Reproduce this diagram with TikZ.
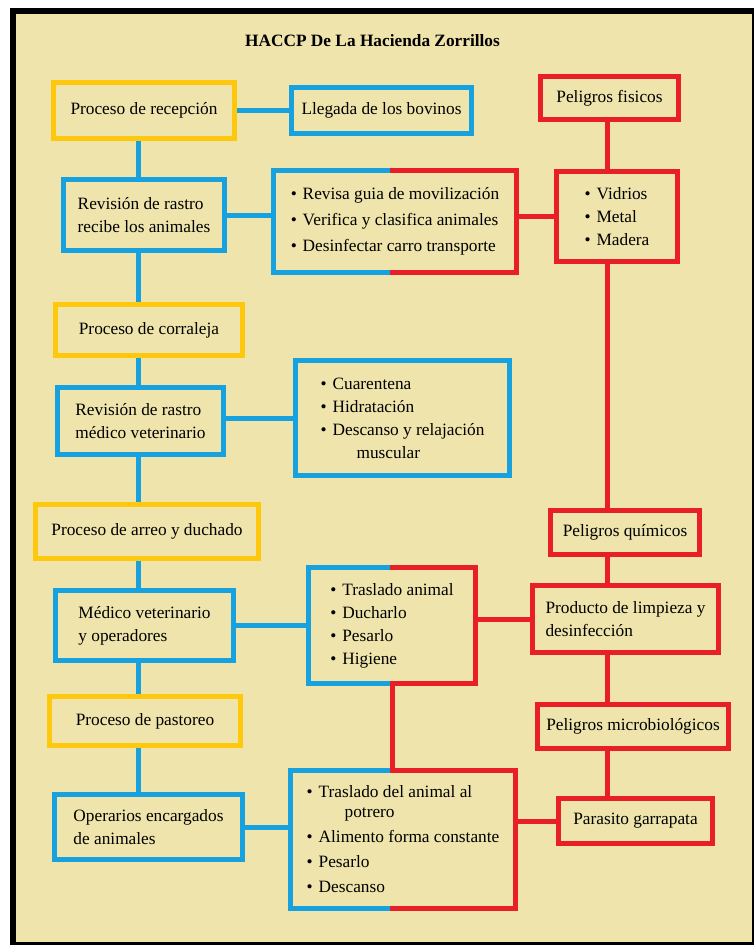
\documentclass[tikz,border=0pt]{standalone}
\usepackage{fontspec}
\setmainfont{Liberation Serif}
\usepackage{tikz}
\definecolor{beige}{RGB}{238,228,172}
\definecolor{cblue}{RGB}{23,161,222}
\definecolor{cyellow}{RGB}{254,200,12}
\definecolor{cred}{RGB}{232,30,40}
\pgfdeclarelayer{bg}
\pgfdeclarelayer{lines}
\pgfsetlayers{bg,lines,main}
\tikzset{%
    box/.style={rectangle, fill=beige, line width=5pt, outer sep=0pt, inner sep=0pt,
        align=left, font=\fontsize{17.3}{23}\selectfont},
    ybox/.style={box, draw=cyellow},
    bbox/.style={box, draw=cblue},
    rbox/.style={box, draw=cred},
    mbox/.style={box},
    bline/.style={cblue, line width=5pt},
    rline/.style={cred, line width=5pt}
}
\newcommand{\bul}{\makebox[12pt][l]{\textbullet}}

\begin{document}
\begin{tikzpicture}[x=1pt,y=-1pt]
            \useasboundingbox (0,0) rectangle (754,945);

            % background and frame
            \begin{pgfonlayer}{bg}
            \fill[white] (0,0) rectangle (754,945);
            \fill[beige] (13,10.5) rectangle (755,945);
            \draw[line width=6pt] (13,10.5) rectangle (755,945);
            \end{pgfonlayer}

            \node[font=\fontsize{17.3}{20}\selectfont\bfseries] (title) at (372.5,41) {HACCP De La Hacienda Zorrillos};

            % helper columns
            \coordinate (lsp) at (138,0);
            \coordinate (rsp) at (607,0);
            \coordinate (split) at (390,0);
            \coordinate (mid) at (392,0);

            % left column: processes
            \node[ybox, minimum width=181, minimum height=56] (rec) at (144,110) {Proceso de recepción};
            \node[bbox, minimum width=161, minimum height=71] (rev1) at (144,215) {Revisión de rastro\\recibe los animales};
            \node[ybox, minimum width=187, minimum height=51] (corr) at (149,330) {Proceso de corraleja};
            \node[bbox, minimum width=166, minimum height=67] (rev2) at (140.5,421) {Revisión de rastro\\médico veterinario};
            \node[ybox, minimum width=223, minimum height=54] (arreo) at (147,531.5) {Proceso de arreo y duchado};
            \node[bbox, minimum width=178, minimum height=70] (medv) at (144.5,625.5) {Médico veterinario\\y operadores};
            \node[ybox, minimum width=191, minimum height=49] (past) at (145,721) {Proceso de pastoreo};
            \node[bbox, minimum width=188, minimum height=65] (oper) at (148.5,827) {Operarios encargados\\de animales};

            % middle column: activities
            \node[bbox, minimum width=180, minimum height=46] (lleg) at (381.5,110) {Llegada de los bovinos};
            \node[mbox, minimum width=243, minimum height=102] (tb1) at (395,221.5)
                {\bul Revisa guia de movilización\\[3pt]\bul Verifica y clasifica animales\\[3pt]\bul Desinfectar carro transporte};
            \node[bbox, minimum width=214, minimum height=115] (cuar) at (402.5,418)
                {\bul Cuarentena\\\bul Hidratación\\\bul Descanso y relajación\\\hspace*{36pt}muscular};
            \node[mbox, minimum width=167, minimum height=116] (tb2) at (392,625.5)
                {\bul Traslado animal\\\bul Ducharlo\\\bul Pesarlo\\\bul Higiene};
            \node[mbox, minimum width=225, minimum height=138] (tb3) at (403,839.5)
                {\bul Traslado del animal al\\[-3pt]\hspace*{38pt}potrero\\[2pt]\bul Alimento forma constante\\[2pt]\bul Pesarlo\\[2pt]\bul Descanso};

            % right column: hazards
            \node[rbox, minimum width=138, minimum height=43] (pfis) at (609.5,98) {Peligros fisicos};
            \node[rbox, minimum width=121, minimum height=90] (vid) at (617,216.5) {\bul Vidrios\\\bul Metal\\\bul Madera};
            \node[rbox, minimum width=149, minimum height=44] (pquim) at (625,532.5) {Peligros químicos};
            \node[rbox, minimum width=186, minimum height=67] (prod) at (625.5,619) {Producto de limpieza y\\desinfección};
            \node[rbox, minimum width=191, minimum height=44] (pmic) at (633,726.5) {Peligros microbiológicos};
            \node[rbox, minimum width=154, minimum height=45] (par) at (635.5,821) {Parasito garrapata};

            % two coloured borders
            \foreach \b in {tb1,tb2,tb3}{
                \draw[bline] (split |- \b.north) -| (\b.west) |- (split |- \b.south);
                \draw[rline] (split |- \b.north) -| (\b.east) |- (split |- \b.south);
            }

            % connectors
            \begin{pgfonlayer}{lines}
            \foreach \a/\b in {rec/rev1, rev1/corr, corr/rev2, rev2/arreo, arreo/medv, medv/past, past/oper}
                \draw[bline] (\a -| lsp) -- (\b -| lsp);
            \foreach \a/\b in {pfis/vid, vid/pquim, pquim/prod, prod/pmic, pmic/par}
                \draw[rline] (\a -| rsp) -- (\b -| rsp);
            \draw[bline] (rec) -- (rec -| lleg.west);
            \draw[bline] (rev1) -- (rev1 -| tb1.west);
            \draw[rline] (vid) -- (vid -| tb1.east);
            \draw[bline] (cuar) -- (cuar -| rev2.east);
            \draw[bline] (medv) -- (medv -| tb2.west);
            \draw[rline] (prod) -- (prod -| tb2.east);
            \draw[rline] (tb2 -| mid) -- (tb3 -| mid);
            \draw[bline] (oper) -- (oper -| tb3.west);
            \draw[rline] (par) -- (par -| tb3.east);
            \end{pgfonlayer}
\end{tikzpicture}
\end{document}
